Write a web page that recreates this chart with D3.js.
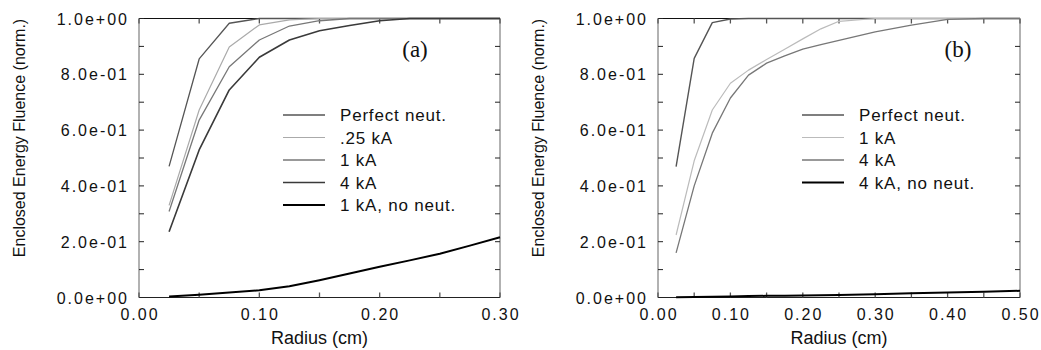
<!DOCTYPE html>
<meta charset="utf-8">
<style>
body { margin: 0; background: #fff; }
text { font-family: "Liberation Sans", Arial, sans-serif; fill: #111; }
.tick-label { font-size: 16px; letter-spacing: 2px; }
.legend-label { font-size: 17px; letter-spacing: 0.8px; }
.y-title { font-size: 16px; }
.x-title { font-size: 18px; }
.tag { font-family: "Liberation Serif", "Times New Roman", serif; font-size: 23px; }
</style>
<body>
<script src="https://d3js.org/d3.v7.min.js"></script>
<script>

var width = 1041,
    height = 350;

// panel (a)
var xA = [0.025, 0.05, 0.075, 0.1, 0.125, 0.15, 0.175, 0.2, 0.225, 0.25, 0.275, 0.3];
var perfectA = [0.47, 0.855, 0.983, 1.0, 1.0, 1.0, 1.0, 1.0, 1.0, 1.0, 1.0, 1.0];
var quarterA = [0.33, 0.672, 0.898, 0.977, 0.995, 1.0, 1.0, 1.0, 1.0, 1.0, 1.0, 1.0];
var oneA = [0.308, 0.636, 0.827, 0.923, 0.973, 0.992, 1.0, 1.0, 1.0, 1.0, 1.0, 1.0];
var fourA = [0.236, 0.529, 0.744, 0.861, 0.923, 0.956, 0.975, 0.992, 1.0, 1.0, 1.0, 1.0];
var noNeutA = [0.004, 0.01, 0.018, 0.026, 0.04, 0.062, 0.086, 0.11, 0.133, 0.157, 0.186, 0.216];

// panel (b)
var xB = [0.025, 0.05, 0.075, 0.1, 0.125, 0.15, 0.175, 0.2, 0.225, 0.25, 0.3, 0.35, 0.4, 0.45, 0.5];
var perfectB = [0.469, 0.857, 0.985, 0.998, 1.0, 1.0, 1.0, 1.0, 1.0, 1.0, 1.0, 1.0, 1.0, 1.0, 1.0];
var oneB = [0.224, 0.49, 0.672, 0.768, 0.815, 0.853, 0.89, 0.927, 0.963, 0.99, 1.0, 1.0, 1.0, 1.0, 1.0];
var fourB = [0.16, 0.40, 0.589, 0.715, 0.797, 0.84, 0.866, 0.89, 0.906, 0.922, 0.952, 0.976, 0.997, 1.0, 1.0];
var noNeutB = [0.001, 0.002, 0.003, 0.004, 0.005, 0.006, 0.006, 0.007, 0.008, 0.009, 0.012, 0.015, 0.018, 0.021, 0.024];

// ticks
var yTicks = [0, 0.2, 0.4, 0.6, 0.8, 1.0];
var yTickLabels = ["0.0e+00", "2.0e-01", "4.0e-01", "6.0e-01", "8.0e-01", "1.0e+00"];
var yMinor = [0.1, 0.3, 0.5, 0.7, 0.9];
var xTicksA = [0, 0.1, 0.2, 0.3];
var xTickLabelsA = ["0.00", "0.10", "0.20", "0.30"];
var xMinorA = [0.05, 0.15, 0.25];
var xTicksB = [0, 0.1, 0.2, 0.3, 0.4, 0.5];
var xTickLabelsB = ["0.00", "0.10", "0.20", "0.30", "0.40", "0.50"];
var xMinorB = [0.05, 0.15, 0.25, 0.35, 0.45];

var namesA = ["Perfect neut.", ".25 kA", "1 kA", "4 kA", "1 kA, no neut."];
var namesB = ["Perfect neut.", "1 kA", "4 kA", "4 kA, no neut."];

var panels = [
  {
    left: 139, right: 500, xMax: 0.3,
    xTicks: xTicksA, xLabels: xTickLabelsA, xMinor: xMinorA,
    tag: "(a)", tagX: 415,
    series: [
      {name: namesA[0], x: xA, y: perfectA, color: "#555", w: 1.3},
      {name: namesA[1], x: xA, y: quarterA, color: "#aaa", w: 1.2},
      {name: namesA[2], x: xA, y: oneA, color: "#777", w: 1.3},
      {name: namesA[3], x: xA, y: fourA, color: "#3a3a3a", w: 1.6},
      {name: namesA[4], x: xA, y: noNeutA, color: "#000", w: 2}
    ]
  },
  {
    left: 658, right: 1020, xMax: 0.5,
    xTicks: xTicksB, xLabels: xTickLabelsB, xMinor: xMinorB,
    tag: "(b)", tagX: 958,
    series: [
      {name: namesB[0], x: xB, y: perfectB, color: "#555", w: 1.4},
      {name: namesB[1], x: xB, y: oneB, color: "#bbb", w: 1.2},
      {name: namesB[2], x: xB, y: fourB, color: "#777", w: 1.3},
      {name: namesB[3], x: xB, y: noNeutB, color: "#000", w: 2}
    ]
  }
];

var plotTop = 18.5, plotBottom = 297.5;

var svg = d3.select("body").append("svg")
    .attr("width", width)
    .attr("height", height);

var y = d3.scaleLinear().domain([0, 1]).range([plotBottom, plotTop]);

panels.forEach(function(p) {
  var x = d3.scaleLinear().domain([0, p.xMax]).range([p.left, p.right]);
  var g = svg.append("g");

  // frame: top/bottom dark, sides grey
  g.append("line").attr("x1", p.left).attr("x2", p.right).attr("y1", plotTop).attr("y2", plotTop)
      .attr("stroke", "#111").attr("stroke-width", 1.2);
  g.append("line").attr("x1", p.left).attr("x2", p.right).attr("y1", plotBottom).attr("y2", plotBottom)
      .attr("stroke", "#222").attr("stroke-width", 1.2);
  g.append("line").attr("x1", p.left).attr("x2", p.left).attr("y1", plotTop).attr("y2", plotBottom)
      .attr("stroke", "#aaa").attr("stroke-width", 1.8);
  g.append("line").attr("x1", p.right).attr("x2", p.right).attr("y1", plotTop).attr("y2", plotBottom)
      .attr("stroke", "#aaa").attr("stroke-width", 1.8);

  // inward ticks
  var yAll = yTicks.concat(yMinor);
  g.selectAll(".ytl").data(yAll).enter().append("line")
      .attr("x1", p.left).attr("x2", p.left + 5)
      .attr("y1", function(d) { return y(d); }).attr("y2", function(d) { return y(d); })
      .attr("stroke", "#222");
  g.selectAll(".ytr").data(yAll).enter().append("line")
      .attr("x1", p.right).attr("x2", p.right - 5)
      .attr("y1", function(d) { return y(d); }).attr("y2", function(d) { return y(d); })
      .attr("stroke", "#222");
  var xAll = p.xTicks.concat(p.xMinor);
  g.selectAll(".xtb").data(xAll).enter().append("line")
      .attr("x1", function(d) { return x(d); }).attr("x2", function(d) { return x(d); })
      .attr("y1", plotBottom).attr("y2", plotBottom - 5)
      .attr("stroke", "#555").attr("stroke-width", 1.3);
  g.selectAll(".xtt").data(xAll).enter().append("line")
      .attr("x1", function(d) { return x(d); }).attr("x2", function(d) { return x(d); })
      .attr("y1", plotTop).attr("y2", plotTop + 5)
      .attr("stroke", "#555").attr("stroke-width", 1.3);

  // tick labels
  g.selectAll(".ylab").data(yTicks).enter().append("text")
      .attr("class", "tick-label")
      .attr("x", p.left - 10)
      .attr("y", function(d) { return y(d) + 6; })
      .attr("text-anchor", "end")
      .text(function(d, i) { return yTickLabels[i]; });
  g.selectAll(".xlab").data(p.xTicks).enter().append("text")
      .attr("class", "tick-label")
      .attr("x", function(d) { return x(d) + 1; })
      .attr("y", 320)
      .attr("text-anchor", "middle")
      .text(function(d, i) { return p.xLabels[i]; });

  // axis titles
  g.append("text").attr("class", "x-title")
      .attr("x", (p.left + p.right) / 2).attr("y", 344)
      .attr("text-anchor", "middle")
      .text("Radius (cm)");
  g.append("text").attr("class", "y-title")
      .attr("transform", "translate(" + (p.left - 114) + ",138) rotate(-90)")
      .attr("text-anchor", "middle")
      .text("Enclosed Energy Fluence (norm.)");

  // curves
  var line = d3.line()
      .x(function(d) { return x(d[0]); })
      .y(function(d) { return y(d[1]); });
  p.series.forEach(function(s) {
    g.append("path")
        .datum(d3.zip(s.x, s.y))
        .attr("d", line)
        .attr("fill", "none")
        .attr("stroke", s.color)
        .attr("stroke-width", s.w)
        .attr("stroke-linejoin", "round");
  });

  // legend
  var lg = g.append("g").attr("transform", "translate(" + (p.left + 144) + ",115)");
  p.series.forEach(function(s, i) {
    var yy = i * 22.5;
    lg.append("line").attr("x1", 0).attr("x2", 42).attr("y1", yy).attr("y2", yy)
        .attr("stroke", s.color).attr("stroke-width", s.w);
    lg.append("text").attr("class", "legend-label")
        .attr("x", 57).attr("y", yy + 6)
        .text(s.name);
  });

  g.append("text").attr("class", "tag")
      .attr("x", p.tagX).attr("y", 57)
      .attr("text-anchor", "middle")
      .text(p.tag);
});

</script>
